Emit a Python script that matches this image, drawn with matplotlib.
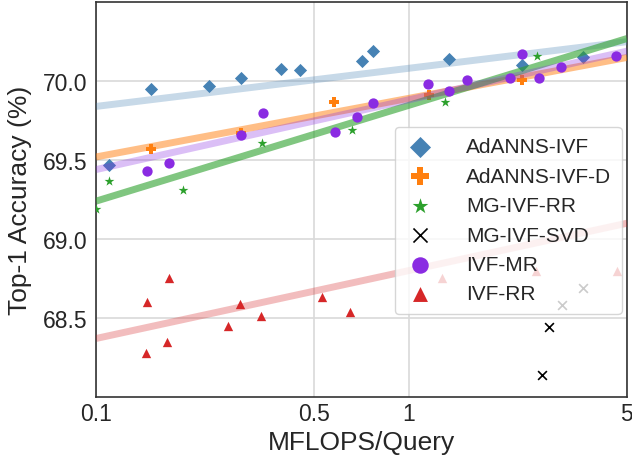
import numpy as np
import matplotlib
matplotlib.use("Agg")
import matplotlib.pyplot as plt
from matplotlib.ticker import FixedLocator, NullLocator, FixedFormatter

plt.rcParams['font.family'] = ['Liberation Sans', 'DejaVu Sans']

# ---- data ----
adanns_ivf_x = [0.110, 0.150, 0.230, 0.290, 0.390, 0.450, 0.710, 0.768, 1.35, 2.31, 3.63]
adanns_ivf_y = [69.47, 69.95, 69.97, 70.02, 70.08, 70.07, 70.13, 70.19, 70.14, 70.10, 70.15]

adanns_ivf_d_x = [0.150, 0.290, 0.579, 1.16, 2.31]
adanns_ivf_d_y = [69.57, 69.67, 69.87, 69.91, 70.01]

mg_ivf_rr_x = [0.100, 0.110, 0.190, 0.339, 0.661, 1.31, 2.58]
mg_ivf_rr_y = [69.19, 69.37, 69.31, 69.61, 69.69, 69.87, 70.16]

mg_ivf_svd_x = [2.68, 2.81, 3.09, 3.63]
mg_ivf_svd_y = [68.14, 68.44, 68.58, 68.69]

ivf_mr_x = [0.146, 0.171, 0.292, 0.341, 0.582, 0.684, 0.770, 1.15, 1.35, 1.54, 2.11, 2.30, 2.61, 3.08, 4.62]
ivf_mr_y = [69.43, 69.48, 69.66, 69.80, 69.68, 69.77, 69.86, 69.98, 69.94, 70.01, 70.02, 70.17, 70.02, 70.09, 70.16]

ivf_rr_x = [0.144, 0.146, 0.169, 0.171, 0.264, 0.288, 0.337, 0.528, 0.651, 1.28, 2.56, 4.66]
ivf_rr_y = [68.28, 68.60, 68.35, 68.75, 68.45, 68.59, 68.51, 68.63, 68.54, 68.75, 68.80, 68.80]

# trend lines: values at x = 0.1 and x = 5
trend_x = [0.1, 5.0]
adanns_ivf_trend = [69.84, 70.25]
adanns_ivf_d_trend = [69.52, 70.15]
mg_ivf_rr_trend = [69.24, 70.27]
ivf_mr_trend = [69.44, 70.19]
ivf_rr_trend = [68.37, 69.10]

x_ticks = [0.1, 0.5, 1, 5]
x_tick_labels = ["0.1", "0.5", "1", "5"]
y_ticks = [68.5, 69.0, 69.5, 70.0]

series = [
    ("AdANNS-IVF", adanns_ivf_x, adanns_ivf_y, adanns_ivf_trend, "#4682b4", "D", 45, 0.3),
    ("AdANNS-IVF-D", adanns_ivf_d_x, adanns_ivf_d_y, adanns_ivf_d_trend, "#ff7f0e", "P", 60, 0.5),
    ("MG-IVF-RR", mg_ivf_rr_x, mg_ivf_rr_y, mg_ivf_rr_trend, "#2ca02c", "*", 55, 0.6),
    ("MG-IVF-SVD", mg_ivf_svd_x, mg_ivf_svd_y, None, "black", "x", 40, 0.3),
    ("IVF-MR", ivf_mr_x, ivf_mr_y, ivf_mr_trend, "#8a2be2", "o", 55, 0.3),
    ("IVF-RR", ivf_rr_x, ivf_rr_y, ivf_rr_trend, "#d62728", "^", 45, 0.3),
]

fig = plt.figure(figsize=(6.32, 4.60), dpi=100)
ax = fig.add_axes([0.152, 0.135, 0.840, 0.858])

for name, xs, ys, trend, color, marker, size, lalpha in series:
    if marker == "x":
        ax.scatter(xs, ys, marker=marker, s=size, color=color, linewidths=1.2, label=name, zorder=3)
    else:
        ax.scatter(xs, ys, marker=marker, s=size, color=color, linewidths=0, label=name, zorder=3)
    if trend is not None:
        ax.plot(trend_x, trend, color=color, alpha=lalpha, lw=5, zorder=3, solid_capstyle='butt')

ax.set_xscale('log')
ax.set_xlim(0.1, 5)
ax.set_ylim(68.0, 70.5)
ax.xaxis.set_major_locator(FixedLocator(x_ticks))
ax.xaxis.set_major_formatter(FixedFormatter(x_tick_labels))
ax.xaxis.set_minor_locator(NullLocator())
ax.set_yticks(y_ticks)
ax.set_yticklabels([f"{v:.1f}" for v in y_ticks])

ax.grid(True, color="#d9d9d9", lw=1.2, zorder=0)
ax.set_axisbelow(True)
for sp in ax.spines.values():
    sp.set_color("#333333")
    sp.set_linewidth(1.2)
ax.tick_params(axis='x', which='both', length=0, labelsize=16.5, colors="#262626", pad=4)
ax.tick_params(axis='y', which='both', length=0, labelsize=16.5, colors="#262626", pad=6)

ax.set_xlabel("MFLOPS/Query", fontsize=19, color="#262626", labelpad=3)
ax.set_ylabel("Top-1 Accuracy (%)", fontsize=19, color="#262626", labelpad=8)

leg = ax.legend(loc='upper right', bbox_to_anchor=(0.99, 0.684), borderaxespad=0,
                fontsize=15, markerscale=1.6, framealpha=0.8, edgecolor="#cccccc",
                handlelength=1.4, handletextpad=1.5, labelspacing=0.5, borderpad=0.5,
                fancybox=True)
leg.get_frame().set_linewidth(1.0)
for t in leg.get_texts():
    t.set_color("#262626")

fig.savefig("out.png", dpi=100)
